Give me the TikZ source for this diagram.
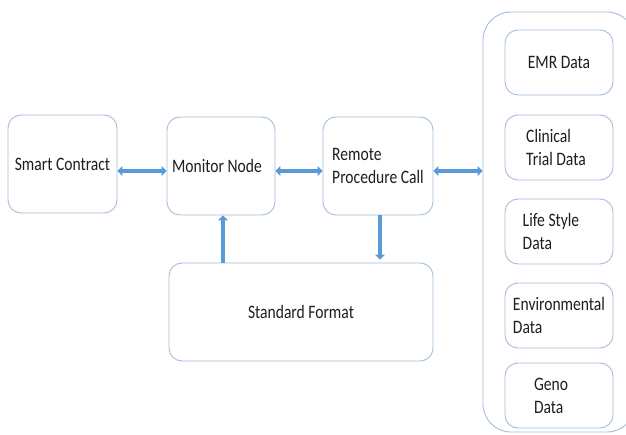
\documentclass[tikz,border=0pt]{standalone}
\usepackage{fontspec}
\setmainfont{Carlito}[FakeStretch=0.82]
\usetikzlibrary{arrows.meta}
\definecolor{boxline}{HTML}{A4BEDC}
\definecolor{arrblue}{HTML}{5B9BD5}
\definecolor{txt}{HTML}{1E1E1E}
\tikzset{
  box/.style={draw=boxline, line width=0.9pt, rounded corners=13pt, text=txt,
    font=\fontsize{19}{23}\selectfont, inner sep=3pt},
  databox/.style={box, minimum width=108pt, minimum height=65pt, align=left},
  arr/.style={draw=arrblue, line width=4pt,
    -{Triangle[length=5pt,width=10pt]}},
  darr/.style={draw=arrblue, line width=4pt,
    {Triangle[length=5pt,width=10pt]}-{Triangle[length=5pt,width=10pt]}}
}
\begin{document}
\begin{tikzpicture}[x=1pt,y=-1pt]
\clip (0,0) rectangle (626,435);
\fill[white] (0,0) rectangle (626,435);
% container
\node[draw=boxline, line width=0.9pt, rounded corners=28pt,
  minimum width=152pt, minimum height=420pt] (cont) at (559,222) {};
\node[box, minimum width=109pt, minimum height=98pt] (sc) at (62.5,164) {Smart Contract};
\node[box, minimum width=108pt, minimum height=98pt] (mn) at (221,166) {Monitor Node\hspace*{8pt}};
\node[box, minimum width=110pt, minimum height=98pt, align=left] (rpc) at (378,166) {Remote\\Procedure Call};
\node[box, minimum width=264pt, minimum height=98pt] (sf) at (301,312) {Standard Format};
\node[databox] (emr) at (559,62.5) {EMR Data};
\node[databox] (ct) at (559,147.5) {Clinical\\Trial Data\hspace*{6pt}};
\node[databox] (ls) at (559,231.5) {Life Style\hspace*{16pt}\\Data};
\node[databox] (env) at (559,315.5) {Environmental\\Data};
\node[databox] (geno) at (559,395.5) {Geno\hspace*{16pt}\\Data};
% connectors
\draw[darr] ([yshift=-7pt]sc.east) -- ([yshift=-5pt]mn.west);
\draw[darr] ([yshift=-5pt]mn.east) -- ([yshift=-5pt]rpc.west);
\draw[darr] ([yshift=-5pt]rpc.east) -- ([yshift=-5pt]rpc.east -| cont.west);
\draw[arr] ([xshift=2pt]mn.south |- sf.north) -- ([xshift=2pt]mn.south);
\draw[arr] ([xshift=2pt]rpc.south) -- ([xshift=2pt,yshift=3pt]rpc.south |- sf.north);
\end{tikzpicture}
\end{document}
